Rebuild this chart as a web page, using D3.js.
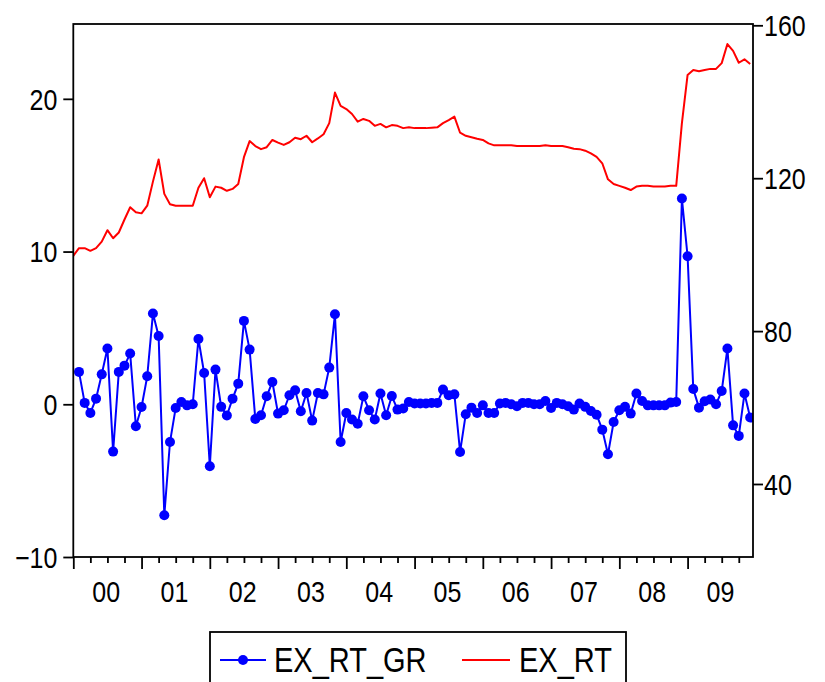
<!DOCTYPE html>
<html>
<head>
<meta charset="utf-8">
<script src="https://cdn.jsdelivr.net/npm/d3@7"></script>
<style>
  html, body { margin: 0; padding: 0; background: #fff; }
  svg { display: block; }
  text { font-family: "Liberation Sans", Arial, sans-serif; fill: #000; }
</style>
</head>
<body>
<svg id="chart" width="825" height="682"></svg>
<script>
// ---- data (monthly, 2000M01 - 2009M12) ----
const yearLabels = ["00","01","02","03","04","05","06","07","08","09"];

// EX_RT (right axis)
const exRt = [
  99.7,101.7,101.7,101.0,101.7,103.4,106.4,104.3,105.8,109.2,112.4,111.1,
  110.8,112.8,119.1,124.9,115.9,113.2,112.8,112.8,112.8,112.8,117.5,120.0,
  115.0,117.8,117.5,116.7,117.2,118.5,125.5,129.7,128.4,127.6,128.1,130.0,
  129.3,128.7,129.4,130.6,130.2,131.1,129.4,130.4,131.5,134.4,142.4,138.9,
  138.1,136.8,134.8,135.5,135.0,133.7,134.2,133.3,133.9,133.7,133.1,133.3,
  133.1,133.1,133.1,133.2,133.3,134.4,135.2,136.1,131.9,131.1,130.7,130.3,
  130.0,129.1,128.6,128.6,128.6,128.6,128.4,128.4,128.4,128.4,128.4,128.6,
  128.4,128.4,128.4,128.1,127.7,127.6,127.2,126.5,125.6,123.9,119.7,118.5,
  118.0,117.5,116.9,117.8,118.0,118.0,117.8,117.8,117.8,118.0,118.0,134.4,
  147.0,148.3,148.0,148.3,148.6,148.6,150.1,155.1,153.3,150.2,151.1,149.9
];

// EX_RT_GR (left axis), first month has no value
const exRtGr = [
  null,2.12,0.09,-0.57,0.37,1.96,3.65,-3.10,2.12,2.53,3.32,-1.44,
  -0.18,1.83,5.94,4.47,-7.27,-2.47,-0.24,0.15,-0.07,0.00,4.28,2.05,
  -4.06,2.27,-0.17,-0.74,0.37,1.35,5.46,3.58,-0.96,-0.72,0.52,1.46,
  -0.61,-0.39,0.59,0.92,-0.46,0.74,-1.07,0.74,0.65,2.40,5.89,-2.47,
  -0.57,-1.00,-1.27,0.52,-0.39,-1.00,0.70,-0.72,0.54,-0.35,-0.28,0.15,
  0.05,0.05,0.05,0.09,0.09,0.96,0.59,0.65,-3.12,-0.65,-0.22,-0.57,
  -0.07,-0.57,-0.57,0.05,0.09,0.00,-0.13,0.09,0.09,0.00,0.00,0.22,
  -0.24,0.09,0.00,-0.13,-0.35,0.05,-0.17,-0.44,-0.68,-1.66,-3.27,-1.16,
  -0.39,-0.17,-0.61,0.70,0.22,-0.07,-0.07,-0.07,-0.07,0.11,0.15,13.47,
  9.69,1.00,-0.22,0.20,0.31,0.00,0.87,3.65,-1.38,-2.07,0.70,-0.87
];

const leftTicks = [-10, 0, 10, 20];
const rightTicks = [40, 80, 120, 160];
const seriesNames = ["EX_RT_GR", "EX_RT"];

// ---- layout ----
const L = 73.3, R = 753, T = 24, B = 557;
const FS = 25, KY = 1.18;   // tick font size and vertical stretch
const svg = d3.select("#chart");

const x = d3.scaleLinear().domain([0, 119.5]).range([L, R]);
const yL = d3.scaleLinear().domain([-10, 24.9]).range([B, T]);
const yR = d3.scaleLinear().domain([20.9, 160.34]).range([B, T]);

svg.append("defs").append("clipPath").attr("id", "clip")
  .append("rect").attr("x", L).attr("y", T).attr("width", R - L).attr("height", B - T);

const plot = svg.append("g").attr("clip-path", "url(#clip)");

// red line
plot.append("path")
  .datum(exRt)
  .attr("fill", "none")
  .attr("stroke", "#ff0000")
  .attr("stroke-width", 2)
  .attr("stroke-linejoin", "round")
  .attr("d", d3.line().x((d, i) => x(i)).y(d => yR(d)));

// blue line + markers
const grPts = exRtGr.map((v, i) => ({ i, v })).filter(d => d.v !== null);
plot.append("path")
  .datum(grPts)
  .attr("fill", "none")
  .attr("stroke", "#0000ff")
  .attr("stroke-width", 2)
  .attr("d", d3.line().x(d => x(d.i)).y(d => yL(d.v)));
plot.selectAll("circle.gr").data(grPts).enter().append("circle")
  .attr("class", "gr")
  .attr("cx", d => x(d.i)).attr("cy", d => yL(d.v)).attr("r", 5)
  .attr("fill", "#0000ff");

// frame
svg.append("rect").attr("x", L).attr("y", T).attr("width", R - L).attr("height", B - T)
  .attr("fill", "none").attr("stroke", "#000").attr("stroke-width", 1.8);

function styleAxis(g) {
  g.select(".domain").remove();
  g.selectAll(".tick line").attr("stroke", "#000").attr("stroke-width", 1.8);
  g.selectAll(".tick text").each(function () {
    const t = d3.select(this);
    const tx = +t.attr("x") || 0, ty = +t.attr("y") || 0;
    t.attr("x", 0).attr("y", 0).attr("dy", "0.35em")
      .attr("transform", `translate(${tx},${ty}) scale(1,${KY})`)
      .style("font-size", FS + "px")
      .style("font-family", '"Liberation Sans", Arial, sans-serif')
      .attr("fill", "#000");
  });
}

svg.append("g").attr("transform", `translate(${L},0)`)
  .call(d3.axisLeft(yL).tickValues(leftTicks).tickSize(10).tickPadding(6).tickFormat(d3.format("d")))
  .call(styleAxis);

svg.append("g").attr("transform", `translate(${R},0)`)
  .call(d3.axisRight(yR).tickValues(rightTicks).tickSize(10).tickPadding(1).tickFormat(d3.format("d")))
  .call(styleAxis);

const months = d3.range(0, 120, 3);
svg.append("g").attr("transform", `translate(0,${B})`)
  .call(d3.axisBottom(x).tickValues(months.filter(m => m % 12 === 0)).tickSize(12).tickFormat(""))
  .call(styleAxis);
svg.append("g").attr("transform", `translate(0,${B})`)
  .call(d3.axisBottom(x).tickValues(months.filter(m => m % 12 !== 0)).tickSize(6).tickFormat(""))
  .call(styleAxis);
svg.append("g").attr("transform", `translate(0,${B})`)
  .call(d3.axisBottom(x).tickValues(yearLabels.map((_, k) => 12 * k + 5.7)).tickSize(0).tickPadding(35)
    .tickFormat((d, k) => yearLabels[k]))
  .call(styleAxis);

// legend
const LFS = 29, LKY = 1.2;
const lg = svg.append("g");
lg.append("rect").attr("x", 210).attr("y", 632).attr("width", 416).attr("height", 70)
  .attr("fill", "none").attr("stroke", "#000").attr("stroke-width", 1.8);
const ly = 660;
lg.append("line").attr("x1", 220).attr("x2", 266).attr("y1", ly).attr("y2", ly)
  .attr("stroke", "#0000ff").attr("stroke-width", 2);
lg.append("circle").attr("cx", 243).attr("cy", ly).attr("r", 5).attr("fill", "#0000ff");
lg.append("text").attr("transform", `translate(274,${ly}) scale(1,${LKY})`).attr("dy", "0.35em")
  .style("font-size", LFS + "px").text(seriesNames[0]);
lg.append("line").attr("x1", 462).attr("x2", 510).attr("y1", ly).attr("y2", ly)
  .attr("stroke", "#ff0000").attr("stroke-width", 2);
lg.append("text").attr("transform", `translate(519,${ly}) scale(1,${LKY})`).attr("dy", "0.35em")
  .style("font-size", LFS + "px").text(seriesNames[1]);
</script>
</body>
</html>
